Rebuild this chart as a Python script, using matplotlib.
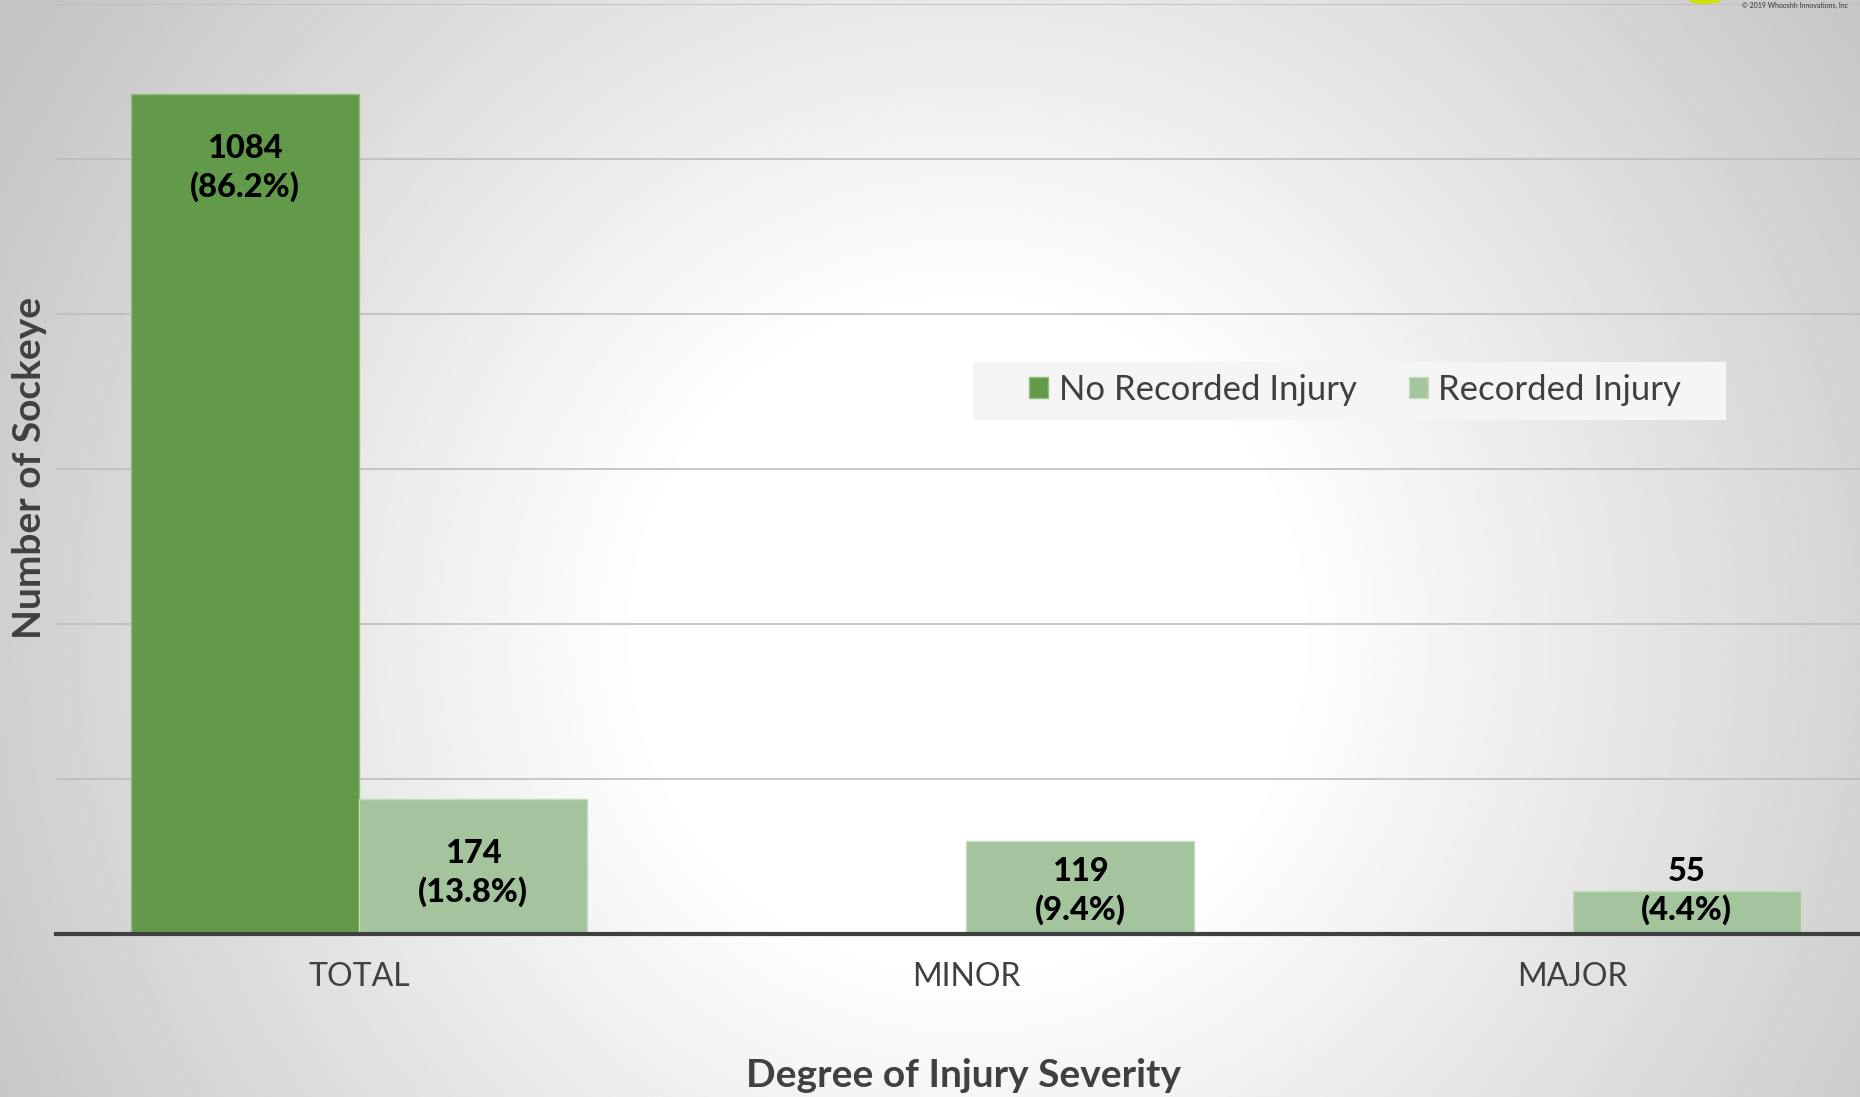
import numpy as np
import matplotlib
matplotlib.use("Agg")
import matplotlib.pyplot as plt
from matplotlib.patches import Rectangle, Ellipse

plt.rcParams["font.family"] = ["Lato", "DejaVu Sans"]

# data
categories = ["TOTAL", "MINOR", "MAJOR"]
no_injury = [1084, 0, 0]
injury = [174, 119, 55]
injury_pct = [13.8, 9.4, 4.4]
no_injury_pct = [86.2, None, None]

DARK = "#629a4a"
LIGHT = "#a4c49e"
TXT = "#404040"

fig = plt.figure(figsize=(18.6, 10.97), dpi=100)

# radial grey-to-white backdrop
bg = fig.add_axes([0, 0, 1, 1], zorder=-10)
yy, xx = np.mgrid[0:1:400j, 0:1:680j]
r = np.sqrt(((xx - 0.52) * 1.7) ** 2 + (yy - 0.58) ** 2)
shade = np.clip((r - 0.30) / 0.72, 0, 1)
grey = 1.0 - 0.23 * shade
bg.imshow(grey, cmap="gray", vmin=0, vmax=1, extent=[0, 1, 0, 1],
          aspect="auto", origin="upper", interpolation="bilinear")
bg.axis("off")

ax = fig.add_axes([0.030, 0.149, 0.9786, 0.8477])
ax.patch.set_alpha(0)

x = np.arange(len(categories))
w = 0.376
ax.bar(x - w / 2, no_injury, w, color=DARK, edgecolor="#8fbf7f",
       linewidth=1, label="No Recorded Injury", zorder=3)
ax.bar(x + w / 2, injury, w, color=LIGHT, edgecolor="#c2dcbc",
       linewidth=1, label="Recorded Injury", zorder=3)

ax.set_xlim(-0.5, len(categories) - 0.5)
ax.set_ylim(0, 1200)
ax.set_yticks(np.arange(0, 1201, 200))
ax.yaxis.grid(True, color="#bdbdbd", linewidth=1.2, zorder=0)
ax.tick_params(axis="y", left=False, labelleft=False)
ax.set_xticks(x)
ax.set_xticklabels(categories, fontsize=23, color=TXT)
ax.tick_params(axis="x", bottom=False, pad=17)
for side in ("top", "right", "left"):
    ax.spines[side].set_visible(False)
ax.spines["bottom"].set_color(TXT)
ax.spines["bottom"].set_linewidth(3)
ax.spines["bottom"].set_zorder(5)


def label_y(v):
    return max(v - 96, 55)


for xi, v, p in zip(x - w / 2, no_injury, no_injury_pct):
    if v:
        ax.text(xi, label_y(v), f"{v}\n({p}%)", ha="center", va="center",
                fontsize=23.5, fontweight="black", color="black",
                linespacing=1.3, zorder=6)
for xi, v, p in zip(x + w / 2, injury, injury_pct):
    ax.text(xi, label_y(v), f"{v}\n({p}%)", ha="center", va="center",
            fontsize=23.5, fontweight="black", color="black",
            linespacing=1.3, zorder=6)

# legend box drawn separately so its padding matches
ax.add_patch(Rectangle((0.523, 0.617), 0.405, 0.0529,
                       transform=fig.transFigure, facecolor="#f5f5f5",
                       edgecolor="none", zorder=6, clip_on=False))
leg = ax.legend(loc="center", bbox_to_anchor=(0.7286, 0.6444),
                bbox_transform=fig.transFigure, ncol=2, fontsize=25,
                frameon=False, handlelength=0.55, handleheight=0.55,
                handletextpad=0.3, columnspacing=1.5, labelcolor=TXT)
leg.set_zorder(7)

fig.text(0.518, 0.020, "Degree of Injury Severity", ha="center",
         va="center", fontsize=28, fontweight="bold", color=TXT)
fig.text(0.016, 0.573, "Number of Sockeye", ha="center", va="center",
         rotation=90, fontsize=28, fontweight="bold", color=TXT)

fig.patches.append(Ellipse((0.9165, 0.9995), 0.017, 0.006,
                           transform=fig.transFigure, facecolor="#cfe500",
                           edgecolor="none"))
fig.text(0.9365, 0.9985, "\u00a9 2019 Whooshh Innovations, Inc",
         ha="left", va="top", fontsize=5, color="#333333")

fig.savefig("out.png", dpi=100)
